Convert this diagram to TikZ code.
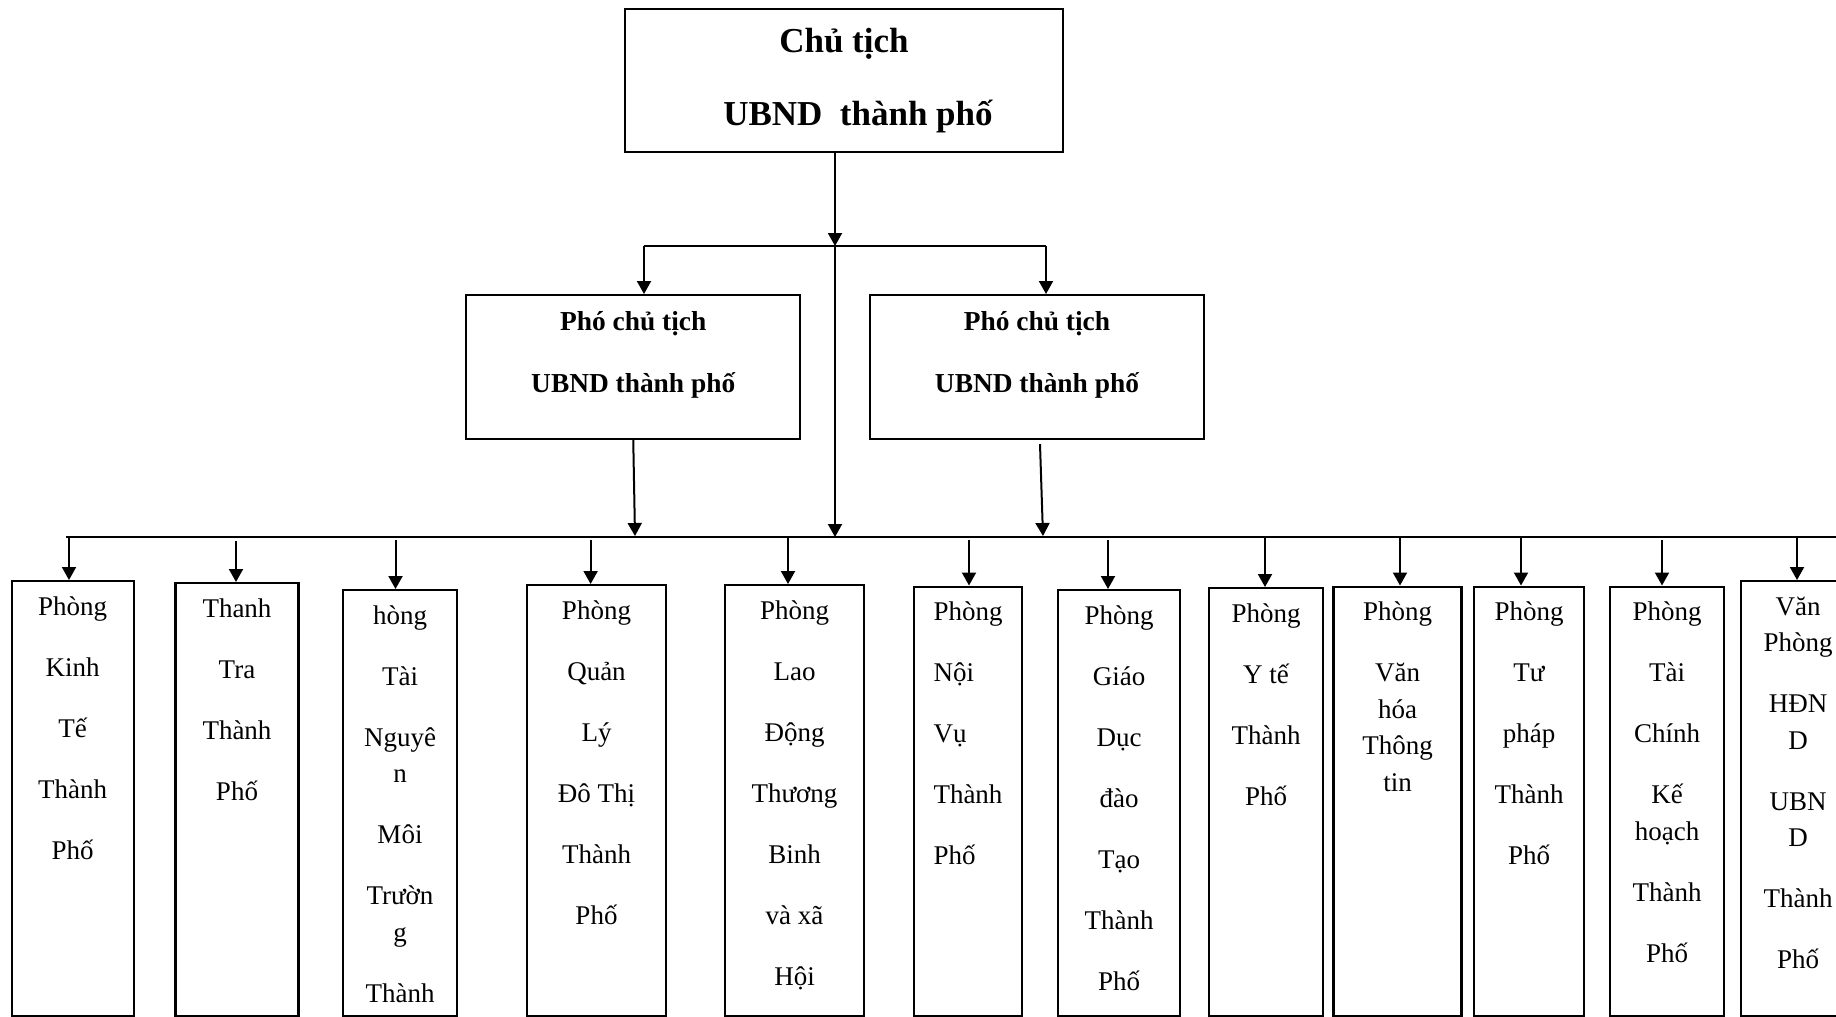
\documentclass[tikz,border=0pt]{standalone}
\usepackage{fontspec}
\setmainfont{Liberation Serif}
\usetikzlibrary{arrows.meta}
\newcommand{\gapline}{\\[12.25pt]}

\begin{document}
\begin{tikzpicture}[x=0.5pt, y=-0.5pt,
  orgbox/.style n args={3}{draw, line width=1.1pt, anchor=north, inner sep=0pt,
              minimum width=#1, minimum height=#2,
              execute at begin node={\begin{minipage}[t][#2][t]{#1}\centering\rule{0pt}{#3}},
              execute at end node={\end{minipage}}},
  chair/.style={orgbox={219pt}{71.5pt}{21.5pt},
                font={\fontsize{17.5pt}{21pt}\selectfont\bfseries}},
  vice/.style={orgbox={167pt}{72pt}{17.5pt},
               font={\fontsize{13.7pt}{16.5pt}\selectfont\bfseries}},
  dept/.style 2 args={orgbox={#1}{#2}{17pt},
               font={\fontsize{13.5pt}{18.25pt}\selectfont}},
  wire/.style={line width=1pt},
  arr/.style={-{Triangle[length=6.5pt, width=7pt]}, line width=1pt}
]
  \useasboundingbox (0,0) rectangle (1836,1017);

  % leadership
  \node[chair] (chair) at (844,8)       {Chủ tịch\\[15.5pt]\hspace*{0.8em}UBND\ \ thành phố};
  \node[vice]  (vpl)   at (633.25,294)  {Phó chủ tịch\\[14.5pt]UBND thành phố};
  \node[vice]  (vpr)   at (1037,294)    {Phó chủ tịch\\[14.5pt]UBND thành phố};

  % departments
  \node[dept={61pt}{217.5pt}]   (kinhte)    at (72.6,580)     {Phòng\gapline Kinh\gapline Tế\gapline Thành\gapline Phố};
  \node[dept={61.5pt}{216.5pt}] (thanhtra)  at (237,582)      {Thanh\gapline Tra\gapline Thành\gapline Phố};
  \node[dept={57pt}{213pt}]     (tainguyen) at (400,589)      {hòng\gapline Tài\gapline Nguyê\\n\gapline Môi\gapline Trườn\\g\gapline Thành};
  \node[dept={69.5pt}{215.5pt}] (quanly)    at (596.5,584)    {Phòng\gapline Quản\gapline Lý\gapline Đô Thị\gapline Thành\gapline Phố};
  \node[dept={69.5pt}{215.5pt}] (laodong)   at (794.5,584)    {Phòng\gapline Lao\gapline Động\gapline Thương\gapline Binh\gapline và xã\gapline Hội};
  \node[dept={54pt}{214.75pt}]  (noivu)     at (968,585.5)    {\raggedright\leftskip=9.75pt Phòng\gapline Nội\gapline Vụ\gapline Thành\gapline Phố\par};
  \node[dept={61pt}{213pt}]     (giaoduc)   at (1119,589)     {Phòng\gapline Giáo\gapline Dục\gapline đào\gapline Tạo\gapline Thành\gapline Phố};
  \node[dept={57pt}{214pt}]     (yte)       at (1266,587)     {Phòng\gapline Y tế\gapline Thành\gapline Phố};
  \node[dept={64pt}{214.75pt}]  (vanhoa)    at (1397.5,585.5) {Phòng\gapline Văn\\hóa\\Thông\\tin};
  \node[dept={55pt}{214.75pt}]  (tuphap)    at (1529,585.5)   {Phòng\gapline Tư\gapline pháp\gapline Thành\gapline Phố};
  \node[dept={57pt}{214.75pt}]  (taichinh)  at (1667,585.5)   {Phòng\gapline Tài\gapline Chính\gapline Kế\\hoạch\gapline Thành\gapline Phố};
  \node[dept={57pt}{217.5pt}]   (vanphong)  at (1798,580)     {Văn\\Phòng\gapline HĐN\\D\gapline UBN\\D\gapline Thành\gapline Phố};

  % connectors
  \coordinate (junc)   at (835,246);
  \coordinate (splitl) at (644,246);
  \coordinate (splitr) at (1046,246);
  \coordinate (busw)   at (66,537);
  \coordinate (buse)   at (1850,537);
  \coordinate (mergel) at (635,536);
  \coordinate (merger) at (1043,536);

  \draw[arr] (junc |- chair.south) -- (junc);
  \draw[arr] (junc) -- (junc |- busw);
  \draw[wire] (splitl) -- (splitr);
  \draw[arr] (splitl) -- (splitl |- vpl.north);
  \draw[arr] (splitr) -- (splitr |- vpr.north);
  \draw[arr] (vpl.south) -- (mergel);
  \draw[arr] ([shift={(3,4)}]vpr.south) -- (merger);
  \draw[wire] (busw) -- (buse);

  \foreach \n/\x/\y in {kinhte/69/537, thanhtra/236/541, tainguyen/395.5/540,
      quanly/590.6/540, laodong/788/538, noivu/969/540, giaoduc/1108/540,
      yte/1265/537, vanhoa/1400/537, tuphap/1521/537, taichinh/1662/540,
      vanphong/1797/537}{
    \coordinate (tap-\n) at (\x,\y);
    \draw[arr] (tap-\n) -- (tap-\n |- \n.north);
  }
\end{tikzpicture}
\end{document}
